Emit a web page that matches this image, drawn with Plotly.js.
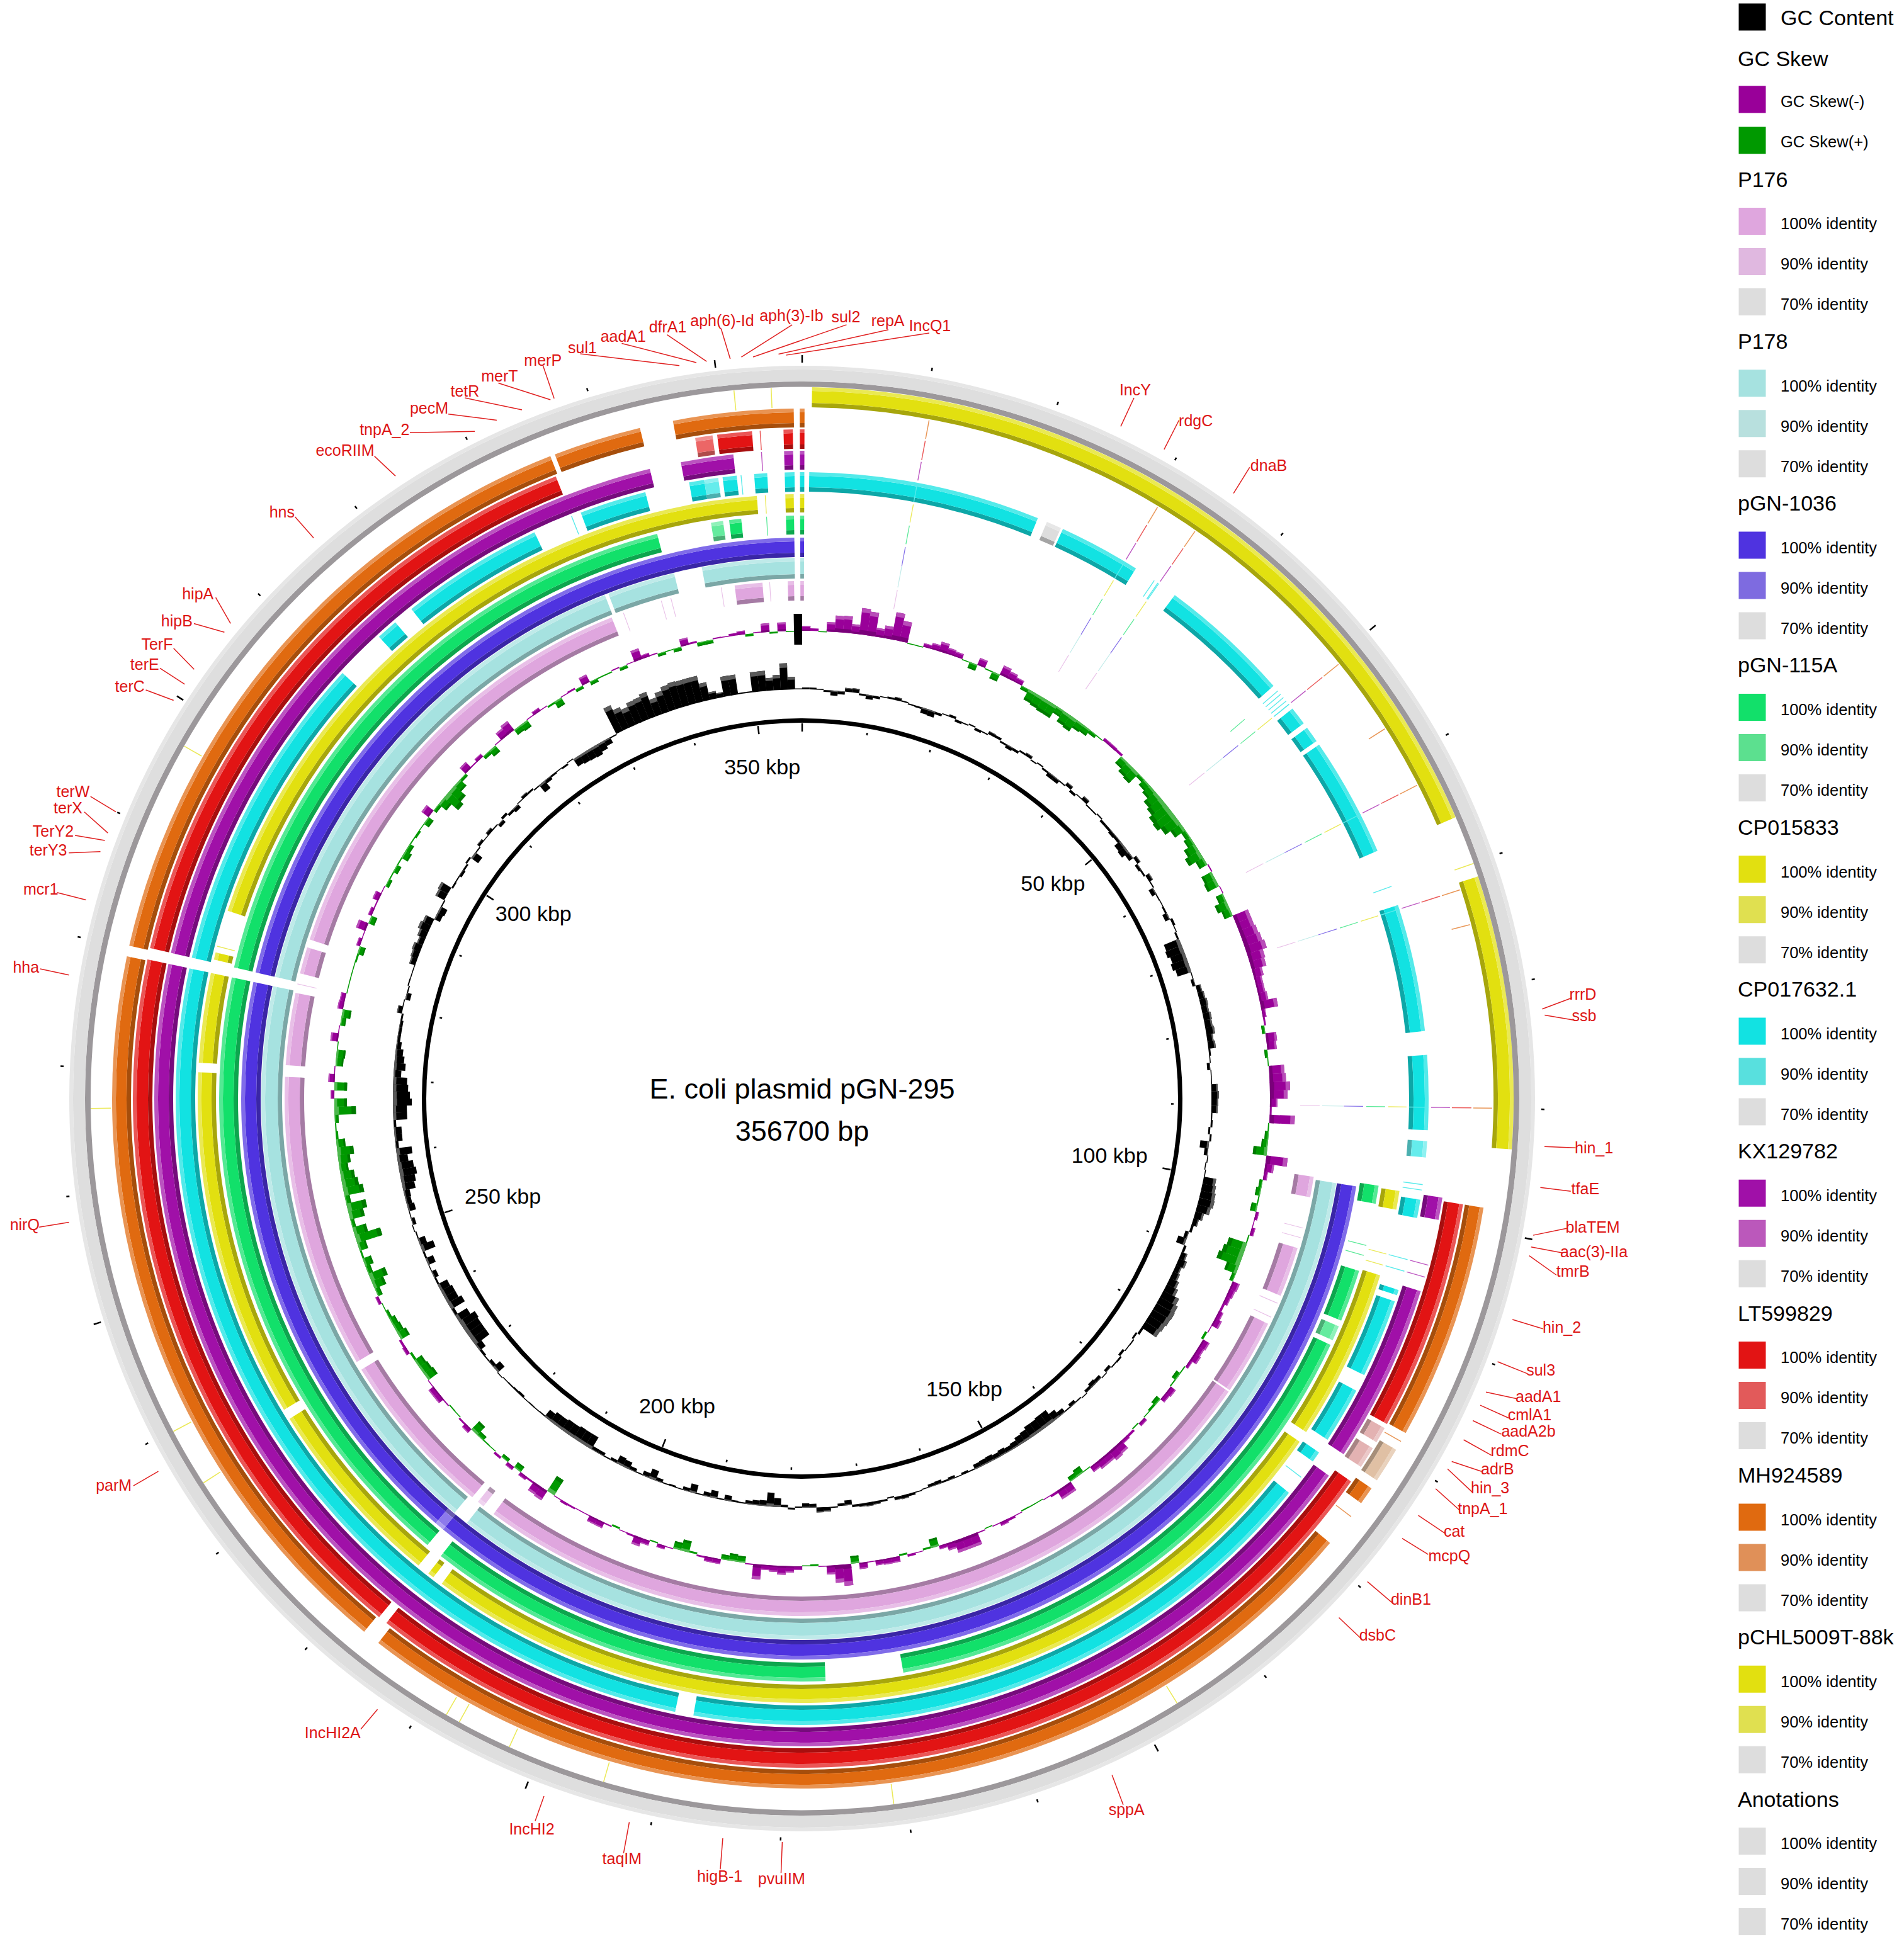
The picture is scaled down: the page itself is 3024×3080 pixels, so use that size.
<!DOCTYPE html>
<html><head><meta charset="utf-8">
<script src="https://cdn.plot.ly/plotly-3.0.1.min.js"></script>
<style>html,body{margin:0;padding:0;background:#fff}#c{width:3024px;height:3080px}</style></head>
<body><div id="c"></div>
<script>
// ---------- DATA (arcs: start,end in degrees clockwise from origin) ----------
const genomeKbp = 356.7;
const tickKbp = [0,10,20,30,40,50,60,70,80,90,100,110,120,130,140,150,160,170,180,190,200,210,220,230,240,250,260,270,280,290,300,310,320,330,340,350];
const kbpLabels = ["50 kbp","100 kbp","150 kbp","200 kbp","250 kbp","300 kbp","350 kbp"];
const kbpLabelTheta = [49.6,100.8,151,202,251.6,304.2,353.1];
const kbpLabelRadius = [523,497,531,530,501,516,527];

const sharedThin = [10.6,31,34.7,51,63,72.4,90.8];

const P176_100 = [[98.7,101],[106.8,112.4],[115.8,124.3],[124.5,216.6],[219.6,238.4],[239.4,272.4],[273.7,281.8],[284,287],[287.9,338.4],[352.5,355.6],[358.4,359.1],[359.8,360.2]];
const P176_90 = [[218,218.8]];
const P176_thin = [104.5,105.6,113.3,115,282.8,339.8,344.2,345.3,351,356.4];
const P178_100 = [[99,218.3],[220,282],[283,338.6],[339,346.3],[349.3,359.2],[359.8,360.2]];
const P178_thin = [];
const pGN1036_100 = [[99,219.8],[220.8,282],[283,359.2],[359.8,360.2]];
const pGN1036_90 = [[219.8,220.8]];
const pGN115A_100 = [[98.6,100.4],[107.2,112.4],[115,170],[177.7,218.3],[220,282],[283,345.6],[352.8,354],[358.4,359.2],[359.8,360.2]];
const pGN115A_90 = [[113,114.5],[351,352.2]];
const pGN115A_thin = [49.4,104.6,105.6,356.5];
const CP015833_100 = [[98.8,100.6],[107,123.5],[124.6,216.6],[217.6,218.2],[219.4,238],[239,272.5],[273.4,282],[283.3,284],[288.1,355.7],[358.4,359.2],[359.8,360.2]];
const CP015833_thin = [104.9,106,284.6,356.5];
const CP017632_100 = [[0.65,22.1],[24.6,32.2],[36.5,48.8],[51.5,53.2],[53.7,55.2],[55.6,66.7],[72,83.8],[86,92.9],[99.3,101],[107.8,108.3],[108.9,116.2],[117.8,123],[124.4,125.4],[129,190],[191.7,282],[283,312.8],[317.5,319.5],[321.4,334.7],[339.3,345.5],[349.6,351],[352.7,354],[355.6,356.8],[358.4,359.3],[359.8,360.2]];
const CP017632_90 = [[93.9,95.4],[351,352.3]];
const CP017632_70 = [[23,24.4]];
const CP017632_thin = [34.2,34.6,49.4,49.8,50.2,50.6,51,70.2,97.9,98.4,104.9,106,127.2,338.4,354.4];
const KX129782_100 = [[98.8,100.8],[107.3,123.3],[125.6,282],[283,346.4],[349.2,353.9],[358.4,359.2],[359.8,360.2]];
const KX129782_thin = [104.9,106,356.4];
const LT599829_100 = [[99.1,119.1],[124.9,218.4],[219.2,282],[283,338.4],[352.7,355.7],[358.4,359.2],[359.8,360.2]];
const LT599829_90 = [[350.8,352.3]];
const LT599829_70 = [[119.5,120.9],[121.5,123.4]];
const LT599829_thin = [356.4];
const MH924589_100 = [[99.1,119],[124.4,125.9],[130.1,217.9],[219.4,281.9],[282.8,338.6],[339,346.4],[349.2,359.3],[359.8,360.2]];
const MH924589_70 = [[120.6,123.6]];
const MH924589_thin = [57.6,75.4,119.8,127.3];
const pCHL_100 = [[0.8,66.7],[71.8,94.1]];
const pCHL_thin = [70.7,148.2,172.6,196.2,204.3,208.8,210,237.3,242.1,269.2,299.7,354.5,357.5];
const annotationRing = [[0,360]];

// GC content per 1-degree window, deviation from the ring baseline (outward positive)
const gcContent = [
3,3,1,-3,-8,-5,6,7,-3,-7, -4,1,3,5,2,-2,-3,-9,-10,-4, 1,4,-4,-2,2,-4,-2,5,4,-3, -6,-4,3,5,-2,2,-3,-7,-7,-2,
6,-4,1,7,-2,-2,2,-4,-4,-6, -5,-12,-14,-8,6,-5,-3,7,2,-8, -2,-1,-3,-8,4,1,-3,-26,-28,-24, -27,-23,-1,-5,8,10,12,11,13,12,
14,10,12,3,1,-5,1,1,10,12, 11,10,2,3,-3,3,-14,-6,1,-1, 0,20,22,24,25,22,14,9,4,-6, -14,4,10,14,10,12,16,20,28,32,
33,32,30,28,4,-3,2,1,-4,3, 2,-5,1,-6,-8,-5,1,-2,-6,-2, -8,-14,-22,-22,-20,-20,-16,-14,-10,-8, -10,-8,-10,-9,-8,-2,-4,-1,-5,-3,
-6,-5,-1,1,4,6,5,-2,3,5, 6,5,4,-8,-4,2,7,8,-6,-7, -2,3,-4,-14,-22,-9,-8,-6,-2,-3, -9,-2,-12,-7,-2,-14,-6,-1,-3,-2,
-6,-16,-8,-2,-6,-12,-14,-5,-2,-6, -6,-22,-22,-22,-20,-20,-18,-18,-14,-2, -1,-2,-1,-4,-3,-2,-1,1,-14,-6, -2,-4,-12,-28,-28,-28,-30,-22,-5,-25,
-20,-20,-17,-3,-8,-1,-13,-3,-22,-12, -2,0,-6,-1,-12,-9,-10,-20,-23,-27, -24,-17,-25,-5,-12,-12,-4,-22,-22,-30, -27,-24,-22,-12,-18,-15,-12,-8,-5,-5,
-5,-3,8,1,-8,-2,2,0,1,10, 12,14,10,14,18,15,-10,-12,-2,16, 18,-3,-2,-5,-3,3,-14,-2,5,1, 6,2,-6,4,-4,-7,1,5,3,-2,
-15,-6,-3,-1,-3,0,-14,-16,-17,-18, -14,-10,-2,45,36,31,37,38,42,28, 35,41,43,42,42,42,29,12,8,32, 32,2,2,32,32,20,24,42,20,0];

// GC skew per 1-degree window (positive drawn outward in purple, negative inward in green)
const gcSkew = [
8,4,-1,15,26,27,15,42,38,14, 20,44,33,-1,-1,6,10,16,10,8, -1,-10,12,-2,-12,16,12,8,-6,-18, -20,-22,-22,-12,-20,-22,-14,-12,-6,-1,
5,5,4,-14,-20,-22,-6,-12,-16,-24, -28,-34,-36,-30,-20,-8,-12,-20,-26,-14, 2,-18,-20,0,-12,-20,-14,26,26,28, 30,33,26,24,16,12,12,14,27,6,
3,-5,17,15,-5,-1,24,26,32,28, 12,3,40,-2,-6,-10,-22,34,14,6, -5,-8,-2,-10,5,1,6,-2,-30,-34, -38,-20,-6,12,10,8,4,8,12,1,
-4,12,10,12,5,-2,-8,-2,10,8, -8,-4,-1,6,-2,4,6,16,18,14, 14,10,-1,-12,-8,16,16,4,1,-1, -1,-2,1,4,6,1,-1,2,20,20,
20,12,6,-14,-3,1,4,-3,9,9, 8,1,10,-12,34,28,14,1,-3,-1, 6,10,14,10,8,24,2,-10,-12,-8, 8,8,3,-3,-18,-12,1,6,-2,8,
14,3,1,-3,2,10,10,1,1,3, 4,1,-28,18,16,3,6,-10,6,-6, 4,-1,-2,-8,-18,8,3,-1,-2,2, 10,10,1,-18,-16,-14,-4,6,4,-16,
-12,-10,-5,-1,5,-8,-20,-28,-8,-14, -3,-14,-42,-22,-6,-24,-31,-8,-32,-26, -22,-14,-19,-26,-14,-4,-2,-6,-34,-20, 6,-20,10,1,-12,-14,-1,12,1,-8,
-14,9,8,-1,-1,-1,-1,-3,-10,6, 1,16,-10,6,2,10,1,-6,-2,-8, -2,-12,-8,-2,-4,-1,-10,14,-6,-16, -30,-24,-14,-5,13,2,6,-6,-12,1,
14,18,-10,-12,1,6,1,-3,-12,1, 3,-5,13,-6,-2,-2,2,-5,1,18, 6,2,-5,-1,-6,12,3,-6,-6,2, 1,4,6,-4,1,14,-3,14,-1,0];

const originMark = [[359,360]];

// Gene labels
const geneNames = ["IncQ1","repA","sul2","aph(3)-Ib","aph(6)-Id","dfrA1","aadA1","sul1","merP","merT","tetR","pecM","tnpA_2","ecoRIIM","hns","hipA","hipB","TerF","terE","terC","terW","terX","TerY2","terY3","mcr1","hha","nirQ","parM","IncHI2A","IncHI2","taqIM","higB-1","pvuIIM","sppA","dsbC","dinB1","mcpQ","cat","tnpA_1","hin_3","adrB","rdmC","aadA2b","cmlA1","aadA1","sul3","hin_2","tmrB","aac(3)-IIa","blaTEM","tfaE","hin_1","ssb","rrrD","dnaB","rdgC","IncY"];

// Legend
const legendTitles = ["P176","P178","pGN-1036","pGN-115A","CP015833","CP017632.1","KX129782","LT599829","MH924589","pCHL5009T-88k","Anotations"];
const identityLabels = ["100% identity","90% identity","70% identity"];
const legendColors = [
["#dfa6de","#e0b8e0","#dddddd"],["#a6e2e0","#b8e0de","#dddddd"],["#4f33e0","#7e6be0","#dddddd"],["#12e06a","#5ce08f","#dddddd"],
["#e2e010","#e0e050","#dddddd"],["#12e2e2","#58e0de","#dddddd"],["#a010a8","#bb58bb","#dddddd"],["#e21414","#e25a5a","#dddddd"],
["#e06a10","#e09058","#dddddd"],["#e2e010","#e0e050","#dddddd"],["#dddddd","#dddddd","#dddddd"]];

// ---------- LAYOUT CONSTANTS ----------
const W=3024,H=3080,CX=1274,CY=1745,RMAX=1270;
const FONT='"Liberation Sans", Arial, sans-serif';
const LABEL_SCALE=1.964, LEADER_SCALE=1.969, LABEL_DY=3;
const ringRadii = [[791,822],[826,859],[860,891],[896,926],[931,960],[964,995],[999,1029],[1032,1063],[1066,1096],[1098,1130]];
const GC_BASE=650, SKEW_BASE=743;
const labelLayout = [ // label centre x,y then leader x1,y1,x2,y2
[752,263,749.6,268.7,634,286.5],[718,259,716.6,266,628,285.7],[684,256,682.8,262,607.5,288],[640,255,639,262,598,288],[584,259,581.6,265,589,289.5],
[540,264,538,270,570,291.6],[504,272,501.5,277,561.7,292.5],[471,281,468,285.4,548,295],[439,291,438,295,447,321.5],[404,304,402,309,444,322.5],
[376,316,375,321,421,330.6],[347,330,361.6,334,400.7,339],[311,347,330.6,349,383,348],[279,364,302,368,319,384],[228,414,238,417,253,434],
[160,480,174,482,186,503],[143,502,156.4,503,181,510],[127,521,140,523,156.6,540],[117,537,129,539,149,552],[105,555,117.6,556.6,140,565],
[59,640,73,642.5,93.5,655],[55,653,68,655,87,672],[43,672,60.5,674,84.6,678],[39,687,55.5,688,81,687],[33,719,46,720,69.4,726],
[21,782,32.4,781.6,55.6,786.6],[20,990,31.6,990,55.7,986],[92,1201,107.6,1198.6,127.7,1187],[269,1401,291,1395,304.5,1379],[430,1479,431.7,1469,438.8,1449],
[503,1503,503,1495,507.6,1470],[582,1517,581,1508,583,1483],[632,1519,630,1511,631,1486],[911,1463,906,1456,897,1432],[1114,1322,1098,1322,1080,1305],
[1141,1293,1123,1293,1103,1276],[1172,1258,1152,1254,1131,1241],[1176,1238,1165.6,1237,1144,1222.5],[1199,1220,1177,1218,1158,1201],[1205,1203,1187.4,1203.6,1167.6,1185],
[1211,1188,1195,1187,1171,1179],[1221,1173,1203,1174,1180.6,1161.5],[1236,1157,1211,1157,1188,1146],[1237,1144,1217,1144,1194,1133.6],[1244,1129,1224,1128.5,1198.6,1123],
[1246,1108,1231.6,1108,1208,1098.5],[1263,1073,1244.6,1072,1220,1064.5],[1272,1028,1255.5,1028.7,1233.5,1013],[1289,1012,1260,1010.7,1235,1006],[1288,992,1263.6,991,1236.7,996.5],
[1282,961,1267,961,1242.5,958],[1289,928,1271,926,1245.8,925],[1281,821,1270,823,1246,819],[1280,804,1268,805,1244,814],[1026,376,1008,377,995,398],[967,340,951,339,939,362.6],[918,315,914.7,321,904,344]];

// ---------- HELPERS ----------
function hex(c){return [1,3,5].map(i=>parseInt(c.substr(i,2),16));}
function toHex(a){return '#'+a.map(v=>Math.max(0,Math.min(255,Math.round(v))).toString(16).padStart(2,'0')).join('');}
function dark(c,f){return toHex(hex(c).map(v=>v*f));}
function lite(c,f){return toHex(hex(c).map(v=>v+(255-v)*f));}
function arcTrace(arcs,r0,r1,color){
  return {type:'barpolar',subplot:'polar',theta:arcs.map(a=>(a[0]+a[1])/2),width:arcs.map(a=>a[1]-a[0]),
    base:arcs.map(()=>r0),r:arcs.map(()=>r1-r0),marker:{color:color,line:{width:0}},hoverinfo:'skip',opacity:1};
}
function bevel(arcs,r0,r1,color,out){
  if(!arcs||!arcs.length) return;
  const d=7,l=6;
  out.push(arcTrace(arcs,r0,r0+d,dark(color,0.74)));
  out.push(arcTrace(arcs,r0+d,r1-l,color));
  out.push(arcTrace(arcs,r1-l,r1,lite(color,0.28)));
}
function thinArcs(list){return list.map(t=>[t-0.04,t+0.04]);}

const traces=[];
// comparison rings
const rings=[
 {c:legendColors[0],a:P176_100,b:P176_90,thin:P176_thin.concat(sharedThin)},
 {c:legendColors[1],a:P178_100,thin:P178_thin.concat(sharedThin)},
 {c:legendColors[2],a:pGN1036_100,b:pGN1036_90,thin:sharedThin},
 {c:legendColors[3],a:pGN115A_100,b:pGN115A_90,thin:pGN115A_thin.concat(sharedThin)},
 {c:legendColors[4],a:CP015833_100,thin:CP015833_thin.concat(sharedThin)},
 {c:legendColors[5],a:CP017632_100,b:CP017632_90,g:CP017632_70,thin:CP017632_thin.concat(sharedThin)},
 {c:legendColors[6],a:KX129782_100,thin:KX129782_thin.concat(sharedThin)},
 {c:legendColors[7],a:LT599829_100,b:LT599829_90,g:LT599829_70,gc:"#e3b2b2",thin:LT599829_thin.concat(sharedThin)},
 {c:legendColors[8],a:MH924589_100,g:MH924589_70,gc:"#e0c0a4",thin:MH924589_thin.concat(sharedThin)},
 {c:legendColors[9],a:pCHL_100,thin:pCHL_thin}
];
rings.forEach((ring,i)=>{
  const [r0,r1]=ringRadii[i];
  bevel(ring.a,r0,r1,ring.c[0],traces);
  bevel(ring.b,r0,r1,lite(ring.c[0],0.35),traces);
  bevel(ring.g,r0,r1,ring.gc||ring.c[2],traces);
  if(ring.thin.length) traces.push(arcTrace(thinArcs(ring.thin),r0,r1,lite(ring.c[0],0.3)));
});
// annotation ring
traces.push(arcTrace(annotationRing,1130,1139,"#9c989b"));
traces.push(arcTrace(annotationRing,1139,1158,"#dedede"));
traces.push(arcTrace(annotationRing,1158,1164,"#e6e6e6"));

// window bars
function windowBars(values,base,colP,colN,out){
  const groups={p:{m:[],b:[],r:[],t:[],tb:[],tr:[],d:[],db:[],dr:[]},n:{m:[],b:[],r:[],t:[],tb:[],tr:[],d:[],db:[],dr:[]}};
  values.forEach((v,i)=>{
    const g=v>=0?groups.p:groups.n;
    const h=Math.max(Math.abs(v),1.5);
    const lo=v>=0?base:base-h, hi=lo+h;
    const th=i+0.5;
    g.m.push(th);g.b.push(lo);g.r.push(h);
    if(h>=5){const tip=Math.min(h*0.22,7);g.t.push(th);g.tb.push(hi-tip);g.tr.push(tip);
      g.d.push(th);g.db.push(lo);g.dr.push(tip);}
  });
  [['p',colP],['n',colN]].forEach(([k,col])=>{
    const g=groups[k];
    const mk=(t,b,r,c)=>({type:'barpolar',subplot:'polar',theta:t,base:b,r:r,width:t.map(()=>1.02),marker:{color:c,line:{width:0}},hoverinfo:'skip'});
    out.push(mk(g.m,g.b,g.r,col));
    out.push(mk(g.t,g.tb,g.tr,col==='#000000'?'#5a5a5a':lite(col,0.3)));
    if(col!=='#000000') out.push(mk(g.d,g.db,g.dr,dark(col,0.8)));
  });
}
windowBars(gcContent,GC_BASE,'#000000','#000000',traces);
windowBars(gcSkew,SKEW_BASE,'#990099','#009900',traces);
traces.push(arcTrace(originMark,721,770,'#000000'));

// backbone circle
traces.push(arcTrace(annotationRing,597,604,'#000000'));

// ticks
function tickTrace(list,r0,r1,w){
  const th=[],rr=[];
  list.forEach(k=>{const t=k/genomeKbp*360;th.push(t,t,null);rr.push(r0,r1,null);});
  return {type:'scatterpolar',subplot:'polar',mode:'lines',theta:th,r:rr,line:{color:'#000',width:w},connectgaps:false,hoverinfo:'skip'};
}
const majorK=tickKbp.filter(k=>k%50===0), minorK=tickKbp.filter(k=>k%50!==0);
traces.push(tickTrace(majorK,583,596,2.5));
traces.push(tickTrace(minorK,586,590,2.5));
traces.push(tickTrace(majorK,1169,1181,2.5));
traces.push(tickTrace(minorK,1174,1179,2.5));
traces.push({type:'scatterpolar',subplot:'polar',mode:'text',theta:kbpLabelTheta,r:kbpLabelRadius,text:kbpLabels,textposition:'middle center',
  textfont:{family:FONT,size:34,color:'#000'},hoverinfo:'skip'});

// gene labels + leaders on a full-page cartesian layer
const lx=[],ly=[];
labelLayout.forEach(p=>{lx.push(p[2]*LEADER_SCALE,p[4]*LEADER_SCALE,null);ly.push(p[3]*LEADER_SCALE,p[5]*LEADER_SCALE,null);});
traces.push({type:'scatter',xaxis:'x',yaxis:'y',mode:'lines',x:lx,y:ly,line:{color:'#e02020',width:1.5},hoverinfo:'skip',connectgaps:false});
traces.push({type:'scatter',xaxis:'x',yaxis:'y',mode:'text',x:labelLayout.map(p=>p[0]*LABEL_SCALE),y:labelLayout.map(p=>p[1]*LABEL_SCALE+LABEL_DY),text:geneNames,
  textposition:'middle center',textfont:{family:FONT,size:25,color:'#dd1515'},hoverinfo:'skip'});
// centre title
traces.push({type:'scatter',xaxis:'x',yaxis:'y',mode:'text',x:[1274,1274],y:[1734,1801],text:["E. coli plasmid pGN-295","356700 bp"],
  textposition:'middle center',textfont:{family:FONT,size:45,color:'#000'},hoverinfo:'skip'});

// legend column
const LX_SQ=2783,LX_TITLE=2760,LX_ROW=2828,LEG_DY=2;
const sq={x:[],y:[],c:[]},tTitle={x:[],y:[],t:[]},tRow={x:[],y:[],t:[]};
sq.x.push(LX_SQ);sq.y.push(27);sq.c.push('#000000');
tTitle.x.push(LX_ROW);tTitle.y.push(29+LEG_DY);tTitle.t.push('GC Content');
tTitle.x.push(LX_TITLE);tTitle.y.push(94+LEG_DY);tTitle.t.push('GC Skew');
[[162,156,'#990099','GC Skew(-)'],[226,221,'#009900','GC Skew(+)']].forEach(r=>{sq.x.push(LX_SQ);sq.y.push(r[1]+LEG_DY);sq.c.push(r[2]);tRow.x.push(LX_ROW);tRow.y.push(r[0]+LEG_DY);tRow.t.push(r[3]);});
legendTitles.forEach((name,i)=>{
  const y0=286+257.3*i+LEG_DY;
  tTitle.x.push(LX_TITLE);tTitle.y.push(y0);tTitle.t.push(name);
  identityLabels.forEach((lab,j)=>{
    const y=y0+70+j*64;
    sq.x.push(LX_SQ);sq.y.push(y-6.5);sq.c.push(legendColors[i][j]);
    tRow.x.push(LX_ROW);tRow.y.push(y);tRow.t.push(lab);
  });
});
traces.push({type:'scatter',xaxis:'x',yaxis:'y',mode:'markers',x:sq.x,y:sq.y,marker:{symbol:'square',size:43,color:sq.c,line:{width:0}},hoverinfo:'skip'});
traces.push({type:'scatter',xaxis:'x',yaxis:'y',mode:'text',x:tTitle.x,y:tTitle.y,text:tTitle.t,textposition:'middle right',textfont:{family:FONT,size:34,color:'#000'},hoverinfo:'skip'});
traces.push({type:'scatter',xaxis:'x',yaxis:'y',mode:'text',x:tRow.x,y:tRow.y,text:tRow.t,textposition:'middle right',textfont:{family:FONT,size:25.5,color:'#000'},hoverinfo:'skip'});

const layout={
  width:W,height:H,margin:{l:0,r:0,t:0,b:0,pad:0},paper_bgcolor:'#fff',plot_bgcolor:'rgba(0,0,0,0)',showlegend:false,
  xaxis:{domain:[0,1],range:[0,W],visible:false,fixedrange:true},
  yaxis:{domain:[0,1],range:[H,0],visible:false,fixedrange:true},
  polar:{
    domain:{x:[(CX-RMAX)/W,(CX+RMAX)/W],y:[(H-CY-RMAX)/H,(H-CY+RMAX)/H]},
    bgcolor:'rgba(0,0,0,0)',barmode:'overlay',
    radialaxis:{visible:false,range:[0,RMAX]},
    angularaxis:{visible:false,direction:'clockwise',rotation:90,thetaunit:'degrees'}
  }
};
Plotly.newPlot('c',traces,layout,{staticPlot:true,displayModeBar:false});
</script></body></html>
